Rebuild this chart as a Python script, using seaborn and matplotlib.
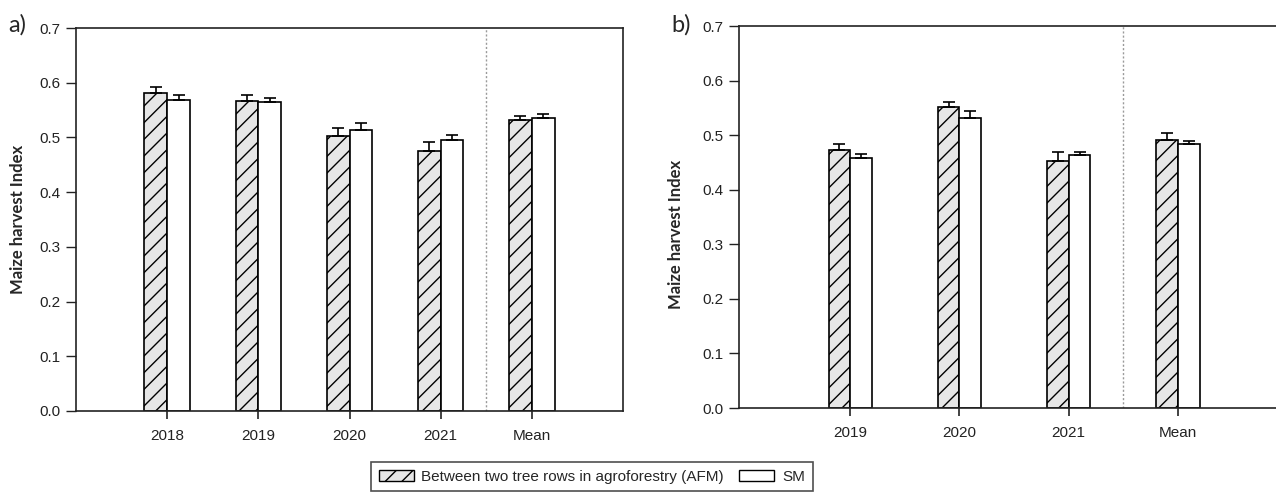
import matplotlib
matplotlib.use("Agg")
import matplotlib.pyplot as plt
import seaborn as sns
import pandas as pd
from matplotlib.patches import Patch

# ---- data ----
years_a = ["2018", "2019", "2020", "2021", "Mean"]
afm_a = [0.581, 0.567, 0.503, 0.475, 0.531]
afm_a_err = [0.012, 0.011, 0.014, 0.016, 0.009]
sm_a = [0.568, 0.565, 0.513, 0.495, 0.536]
sm_a_err = [0.010, 0.007, 0.013, 0.010, 0.006]

years_b = ["2019", "2020", "2021", "Mean"]
afm_b = [0.473, 0.552, 0.453, 0.492]
afm_b_err = [0.010, 0.008, 0.016, 0.012]
sm_b = [0.459, 0.532, 0.463, 0.484]
sm_b_err = [0.006, 0.012, 0.006, 0.006]

series = ["AFM", "SM"]
legend_labels = ["Between two tree rows in agroforestry (AFM)", "SM"]
y_ticks = [0.0, 0.1, 0.2, 0.3, 0.4, 0.5, 0.6, 0.7]
y_label = "Maize harvest Index"

sns.set_style("white")
plt.rcParams["font.family"] = ["Liberation Sans", "DejaVu Sans"]
plt.rcParams["hatch.linewidth"] = 1.0

colors = {"AFM": "#e6e6e6", "SM": "#ffffff"}

W, H = 1276, 492
fig = plt.figure(figsize=(W / 100, H / 100), dpi=100)

def px_axes(l, r, t, b):
    return fig.add_axes([l / W, 1 - b / H, (r - l) / W, (b - t) / H])

ax_a = px_axes(76, 623, 28, 411)
ax_b = px_axes(739, 1276, 26, 408)


def draw(ax, years, afm, afm_err, sm, sm_err, width, xlim, sep_x, label_xy, spines_right):
    df = pd.DataFrame({
        "year": years * 2,
        "value": afm + sm,
        "treat": ["AFM"] * len(years) + ["SM"] * len(years),
    })
    sns.barplot(data=df, x="year", y="value", hue="treat", order=years,
                hue_order=series, palette=colors, edgecolor="black",
                linewidth=1.2, width=width, errorbar=None, legend=False,
                saturation=1, ax=ax)
    errs = {"AFM": afm_err, "SM": sm_err}
    vals = {"AFM": afm, "SM": sm}
    for cont, name in zip(ax.containers, series):
        xs = []
        for bar in cont:
            if name == "AFM":
                bar.set_hatch("//")
            xs.append(bar.get_x() + bar.get_width() / 2)
        e = errs[name]
        ax.errorbar(xs, vals[name], yerr=[[0] * len(e), e], fmt="none",
                    ecolor="black", elinewidth=1.2, capsize=4, capthick=1.2,
                    zorder=3)
    ax.axvline(sep_x, color="#9a9a9a", linestyle=(0, (1.5, 1.5)), linewidth=1.0)
    ax.set_xlim(*xlim)
    ax.set_ylim(0, 0.7)
    ax.set_yticks(y_ticks)
    ax.set_yticklabels([f"{t:.1f}" for t in y_ticks])
    ax.set_xlabel("")
    ax.set_ylabel(y_label, fontsize=12, fontweight="bold",
                  family=["Lato", "DejaVu Sans"])
    ax.yaxis.set_label_coords(*label_xy)
    ax.tick_params(axis="y", direction="out", length=7, width=1.0,
                   labelsize=11, colors="#222222", left=True, pad=4)
    ax.tick_params(axis="x", direction="out", length=6, width=1.2,
                   labelsize=11, colors="#222222", bottom=True, pad=7)
    for s in ["left", "top", "bottom", "right"]:
        ax.spines[s].set_color("#222222")
        ax.spines[s].set_linewidth(1.2)
    ax.spines["right"].set_visible(spines_right)


draw(ax_a, years_a, afm_a, afm_a_err, sm_a, sm_a_err, 0.5, (-1.0, 5.0), 3.5,
     (-0.092, 0.5), True)
draw(ax_b, years_b, afm_b, afm_b_err, sm_b, sm_b_err, 0.4, (-1.02, 3.9), 2.5,
     (-0.103, 0.455), False)

fig.text(8 / W, 1 - 25 / H, "a)", fontsize=17, va="center", ha="left",
         family=["Lato", "DejaVu Sans"])
fig.text(671 / W, 1 - 25 / H, "b)", fontsize=17, va="center", ha="left",
         family=["Lato", "DejaVu Sans"])

handles = [Patch(facecolor=colors["AFM"], edgecolor="black", hatch="//", linewidth=1.0),
           Patch(facecolor=colors["SM"], edgecolor="black", linewidth=1.0)]
leg = fig.legend(handles, legend_labels, loc="upper left",
                 bbox_to_anchor=(371 / W, 1 - 462 / H), ncol=2, fontsize=11,
                 frameon=True, fancybox=False, handlelength=2.3,
                 handleheight=0.8, handletextpad=0.5, columnspacing=1.0,
                 borderpad=0.5, borderaxespad=0)
leg.get_frame().set_edgecolor("#222222")
leg.get_frame().set_linewidth(1.2)

fig.savefig("out.png", dpi=100)
